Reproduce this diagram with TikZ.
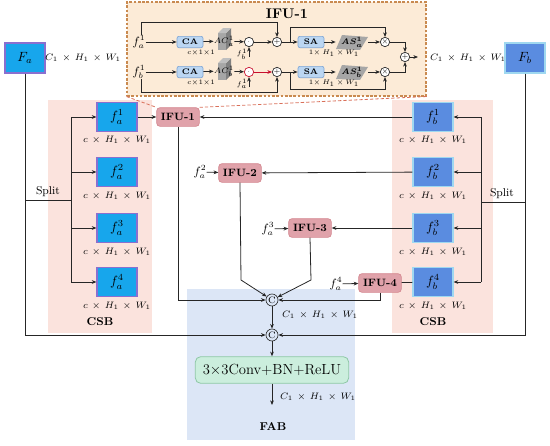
\documentclass[tikz,border=0pt]{standalone}
\usepackage{amsmath}
\usetikzlibrary{arrows.meta,shapes.geometric,calc}
\definecolor{csbpink}{HTML}{FBE3DD}
\definecolor{fabblue}{HTML}{DCE6F6}
\definecolor{insetfill}{HTML}{FCEBD7}
\definecolor{insetline}{HTML}{C98A50}
\definecolor{dashred}{HTML}{D9705A}
\definecolor{fablue}{HTML}{17A6EC}
\definecolor{fbblue}{HTML}{5A8CE0}
\definecolor{faedge}{HTML}{8A6FCF}
\definecolor{fbedge}{HTML}{9FD8F0}
\definecolor{ifufill}{HTML}{E0A2AA}
\definecolor{ifuedge}{HTML}{D4878F}
\definecolor{cafill}{HTML}{BBD6F2}
\definecolor{caedge}{HTML}{7FA6D6}
\definecolor{convfill}{HTML}{CBEEDD}
\definecolor{convedge}{HTML}{8EC8A6}
\definecolor{redarrow}{HTML}{C8102E}
\begin{document}
\begin{tikzpicture}[x=0.75pt,y=-0.75pt,
  >={Stealth[length=3.5pt,width=2.8pt]},
  line/.style={draw=black!85, line width=0.6pt},
  fabox/.style={rectangle, fill=fablue, draw=faedge, line width=0.8pt, minimum width=30pt, minimum height=21.5pt, inner sep=0pt, font=\fontsize{10}{11}\selectfont},
  fbbox/.style={rectangle, fill=fbblue, draw=fbedge, line width=0.8pt, minimum width=30pt, minimum height=21.5pt, inner sep=0pt, font=\fontsize{10}{11}\selectfont},
  bigbox/.style={rectangle, minimum width=30pt, minimum height=22.5pt, inner sep=0pt, line width=0.9pt, font=\fontsize{10}{11}\selectfont},
  ifubox/.style={rectangle, rounded corners=2.5pt, fill=ifufill, draw=ifuedge, line width=0.5pt, minimum width=32pt, minimum height=14pt, inner sep=0pt, font=\fontsize{8}{9}\selectfont\bfseries},
  cabox/.style={rectangle, rounded corners=1.5pt, fill=cafill, draw=caedge, line width=0.5pt, minimum width=19.5pt, minimum height=8.5pt, inner sep=0pt, font=\fontsize{6}{7}\selectfont\bfseries},
  dimlab/.style={font=\fontsize{7}{8}\selectfont, inner sep=0pt},
  tinylab/.style={font=\fontsize{4.5}{5}\selectfont, inner sep=0pt},
  flab/.style={font=\fontsize{9}{10}\selectfont, inner sep=0pt},
  opnode/.style={circle, draw=black!85, line width=0.5pt, minimum size=7pt, inner sep=0pt, font=\fontsize{5}{5}\selectfont, fill=white},
  catnode/.style={circle, draw=black!85, line width=0.5pt, minimum size=9pt, inner sep=0pt, font=\fontsize{7}{7}\selectfont},
  boldlab/.style={font=\fontsize{8.5}{10}\selectfont\bfseries, inner sep=0pt},
  dashconn/.style={draw=dashred, line width=0.6pt, dash pattern=on 2.5pt off 1.5pt},
]
\useasboundingbox (0,0) rectangle (550,446);

% background panels
\fill[csbpink] (48,100) rectangle (152,333);
\fill[csbpink] (392,100) rectangle (493,333);
\fill[fabblue] (187,289) rectangle (355,440);

% ---------- inset IFU-1 ----------
\node[rectangle, fill=insetfill, draw=insetline, dash pattern=on 2pt off 1.2pt, line width=0.8pt,
      minimum width=224.25pt, minimum height=70.5pt, inner sep=0pt] (inset) at (276.5,49) {};
\node[font=\fontsize{10.5}{12}\selectfont\bfseries, inner sep=0pt] (ititle) at (287,14) {IFU-1};

\node[flab] (ia) at (139,42) {$f_a^1$};
\node[flab] (ib) at (139,72) {$f_b^1$};
\node[cabox] (ca1) at (190,42) {CA};
\node[cabox] (ca2) at (190,72) {CA};
\node[tinylab] (cl1) at (201,52.5) {$c{\times}1{\times}1$};
\node[tinylab] (cl2) at (201,82.5) {$c{\times}1{\times}1$};
% AC prisms
\fill[black!35] (218,33) rectangle (226,50);
\fill[black!50] (226,33) -- (231,28) -- (231,45) -- (226,50) -- cycle;
\fill[black!25] (218,33) -- (223,28) -- (231,28) -- (226,33) -- cycle;
\fill[black!35] (218,63) rectangle (226,80);
\fill[black!50] (226,63) -- (231,58) -- (231,75) -- (226,80) -- cycle;
\fill[black!25] (218,63) -- (223,58) -- (231,58) -- (226,63) -- cycle;
\node[inner sep=0pt, minimum width=10.5pt, minimum height=13pt, font=\fontsize{6}{7}\selectfont] (ac1) at (224,41) {$AC_a^1$};
\node[inner sep=0pt, minimum width=10.5pt, minimum height=13pt, font=\fontsize{6}{7}\selectfont] (ac2) at (224,71) {$AC_b^1$};
\node[opnode] (od1) at (249,42) {$\cdot$};
\node[opnode, draw=redarrow] (od2) at (249,72) {$\cdot$};
\node[opnode] (op1) at (277,42) {$+$};
\node[opnode] (op2) at (277,72) {$+$};
\node[cabox] (sa1) at (311,42) {SA};
\node[cabox] (sa2) at (311,72) {SA};
% AS parallelograms
\fill[black!35] (336,49) -- (342,35) -- (368,37) -- (360,50) -- cycle;
\fill[black!35] (336,79) -- (342,65) -- (368,67) -- (360,80) -- cycle;
\node[inner sep=0pt, minimum width=24pt, minimum height=10pt, font=\fontsize{6}{7}\selectfont] (as1) at (352,42) {$\boldsymbol{AS_a^1}$};
\node[inner sep=0pt, minimum width=24pt, minimum height=10pt, font=\fontsize{6}{7}\selectfont] (as2) at (352,72) {$\boldsymbol{AS_b^1}$};
\node[tinylab] (sl1) at (334,53.5) {$1{\times}\,H_1\,{\times}\,W_1$};
\node[tinylab] (sl2) at (334,83.5) {$1{\times}\,H_1\,{\times}\,W_1$};
\node[opnode] (om1) at (385,42) {$\times$};
\node[opnode] (om2) at (385,72) {$\times$};
\node[opnode] (opf) at (405,57) {$+$};
\coordinate (iout) at (418,57);
\node[inner sep=0pt, font=\fontsize{5.5}{6}\selectfont] (lb1) at (242,54) {$f_b^1$};
\node[inner sep=0pt, font=\fontsize{5.5}{6}\selectfont] (lb2) at (242,84) {$f_a^1$};
\coordinate (ub1) at (249,57);
\coordinate (ub2) at (249,87);
\coordinate (t1) at (277,22);
\coordinate (t2) at (277,92);
\coordinate (b1) at (290,42);
\coordinate (b1u) at (290,27);
\coordinate (b2) at (290,72);
\coordinate (b2d) at (290,89);

\draw[line,->] (ia) -- (ca1);
\draw[line,->] (ib) -- (ca2);
\draw[line,->] (ca1) -- (ac1);
\draw[line,->] (ca2) -- (ac2);
\draw[line,->] (ac1) -- (od1);
\draw[line,->] (ac2) -- (od2);
\draw[line,->] (ub1) -- (od1);
\draw[line,->] (ub2) -- (od2);
\draw[line,->] (od1) -- (op1);
\draw[draw=redarrow, line width=0.7pt,->] (od2) -- (op2);
\draw[line,->] (ia.north east) ++(-4,0) |- (t1) -- (op1);
\draw[line,->] (ib.south east) ++(-4,0) |- (t2) -- (op2);
\draw[line,->] (op1) -- (sa1);
\draw[line,->] (op2) -- (sa2);
\draw[line,->] (sa1) -- (as1);
\draw[line,->] (sa2) -- (as2);
\draw[line,->] (as1) -- (om1);
\draw[line,->] (as2) -- (om2);
\draw[line,->] (b1) -- (b1u) -| (om1);
\draw[line,->] (b2) -- (b2d) -| (om2);
\draw[line,->] (om1) -| (opf);
\draw[line,->] (om2) -| (opf);
\draw[line,->] (opf) -- (iout);
\node[dimlab, font=\fontsize{7.5}{8}\selectfont] (outdim) at (468,58) {$C_1\,\times\,H_1\,\times\,W_1$};

% ---------- F_a, F_b ----------
\node[bigbox, fill=fablue, draw=faedge] (Fa) at (25,58) {$F_a$};
\node[bigbox, fill=fbblue, draw=fbedge] (Fb) at (525,58) {$F_b$};
\node[dimlab, font=\fontsize{7.5}{8}\selectfont] (fadim) at (83,58) {$C_1\,\times\,H_1\,\times\,W_1$};

% ---------- CSB left ----------
\node[fabox] (fa1) at (117,117) {$f_a^1$};
\node[fabox] (fa2) at (117,172) {$f_a^2$};
\node[fabox] (fa3) at (117,228) {$f_a^3$};
\node[fabox] (fa4) at (117,282) {$f_a^4$};
\foreach \y/\n in {140/1,196/2,252/3,306/4} \node[dimlab] (dla\n) at (117,\y) {$c\,\times\,H_1\,\times\,W_1$};
\node[boldlab] (csbl) at (100,322) {CSB};

% ---------- CSB right ----------
\node[fbbox] (fb1) at (433,117) {$f_b^1$};
\node[fbbox] (fb2) at (433,172) {$f_b^2$};
\node[fbbox] (fb3) at (433,228) {$f_b^3$};
\node[fbbox] (fb4) at (433,282) {$f_b^4$};
\foreach \y/\n in {140/1,196/2,252/3,306/4} \node[dimlab] (dlb\n) at (433,\y) {$c\,\times\,H_1\,\times\,W_1$};
\node[boldlab] (csbr) at (433,322) {CSB};

% split buses
\coordinate (sl) at (25,200);
\coordinate (slb) at (71,200);
\coordinate (la1) at (71,117);
\coordinate (la2) at (71,172);
\coordinate (la3) at (71,228);
\coordinate (la4) at (71,282);
\draw[line] (sl) -- (slb);
\draw[line] (la1) -- (la4);
\foreach \n in {1,2,3,4} \draw[line,->] (la\n) -- (fa\n);
\node[font=\fontsize{8.5}{10}\selectfont, inner sep=0pt] (splitl) at (48,192) {Split};

\coordinate (sr) at (525,202);
\coordinate (srb) at (481,202);
\coordinate (ra1) at (481,117);
\coordinate (ra2) at (481,172);
\coordinate (ra3) at (481,228);
\coordinate (ra4) at (481,282);
\draw[line] (sr) -- (srb);
\draw[line] (ra1) -- (ra4);
\foreach \n in {1,2,3,4} \draw[line,->] (ra\n) -- (fb\n);
\node[font=\fontsize{8.5}{10}\selectfont, inner sep=0pt] (splitr) at (502,194) {Split};

% ---------- IFU nodes ----------
\node[ifubox] (ifu1) at (178,117) {IFU-1};
\node[ifubox] (ifu2) at (240,173) {IFU-2};
\node[ifubox] (ifu3) at (310,228) {IFU-3};
\node[ifubox] (ifu4) at (380,283) {IFU-4};
\node[flab] (fa2l) at (200,172) {$f_a^2$};
\node[flab] (fa3l) at (268,229) {$f_a^3$};
\node[flab] (fa4l) at (336,284) {$f_a^4$};

\draw[dashconn] (inset.south west) -- (ifu1.north west);
\draw[dashconn] (inset.south east) -- (ifu1.north east);

\draw[line,->] (fa1) -- (ifu1);
\draw[line,->] (fb1) -- (ifu1);
\draw[line,->] (fb2) -- (ifu2);
\draw[line,->] (fb3) -- (ifu3);
\draw[line] (fb4) -- (ifu4);
\draw[line,->] (fa2l) -- (ifu2);
\draw[line,->] (fa3l) -- (ifu3);
\draw[line,->] (fa4l) -- (ifu4);

% ---------- FAB ----------
\node[catnode] (c1) at (272,300) {C};
\node[catnode] (c2) at (272,335) {C};
\node[rectangle, rounded corners=4pt, fill=convfill, draw=convedge, line width=0.6pt, minimum width=115pt, minimum height=20pt, inner sep=0pt, font=\fontsize{11}{12}\selectfont] (conv) at (272,370) {3${\times}$3Conv+BN+ReLU};
\coordinate (fout) at (272,405);
\node[dimlab, font=\fontsize{7.5}{8}\selectfont] (c1dim) at (320,315) {$C_1\,\times\,H_1\,\times\,W_1$};
\node[dimlab, font=\fontsize{7.5}{8}\selectfont] (outdim2) at (318,397) {$C_1\,\times\,H_1\,\times\,W_1$};
\node[boldlab] (fabl) at (273,427) {FAB};

\coordinate (i2d) at (241,280);
\coordinate (i3d) at (311,280);
\draw[line,->] (ifu1) |- (c1);
\draw[line,->] (ifu2.south) -- (i2d) -- (c1);
\draw[line,->] (ifu3.south) -- (i3d) -- (c1);
\draw[line,->] (ifu4) |- (c1);
\draw[line,->] (c1) -- (c2);
\draw[line,->] (Fa) |- (c2);
\draw[line,->] (Fb) |- (c2);
\draw[line,->] (c2) -- (conv);
\draw[line,->] (conv) -- (fout);
\end{tikzpicture}
\end{document}
